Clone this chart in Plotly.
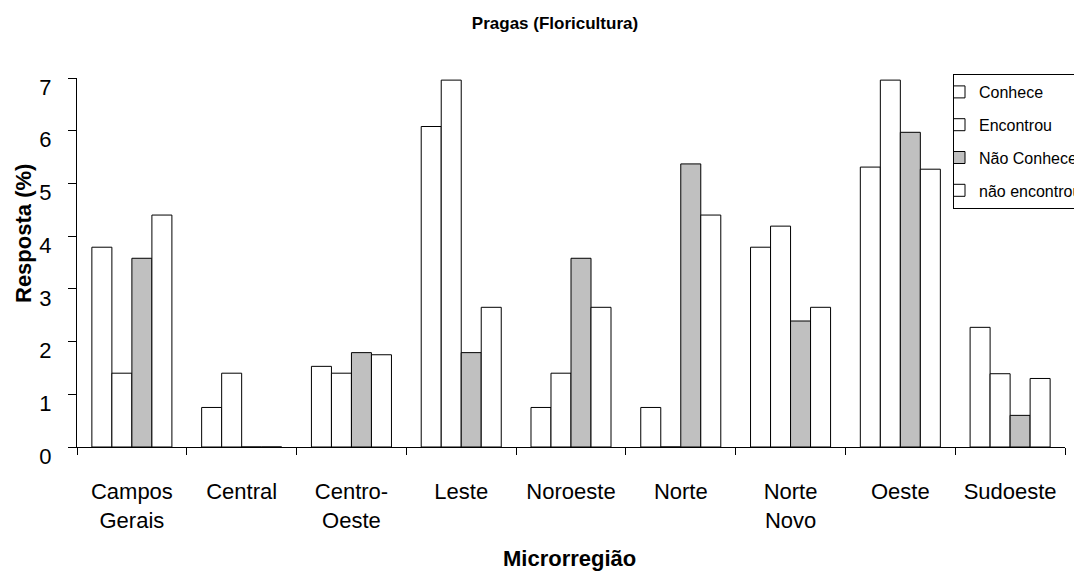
import plotly.graph_objects as go

categories = ["Campos<br>Gerais", "Central", "Centro-<br>Oeste", "Leste", "Noroeste",
              "Norte", "Norte<br>Novo", "Oeste", "Sudoeste"]
conhece = [3.79, 0.75, 1.53, 6.08, 0.75, 0.75, 3.79, 5.31, 2.27]
encontrou = [1.40, 1.40, 1.40, 6.96, 1.40, 0, 4.19, 6.96, 1.39]
nao_conhece = [3.58, 0, 1.79, 1.79, 3.58, 5.37, 2.39, 5.97, 0.60]
nao_encontrou = [4.40, 0, 1.75, 2.65, 2.65, 4.40, 2.65, 5.27, 1.30]

series_names = ["Conhece", "Encontrou", "Não Conhece", "não encontrou"]
series_values = [conhece, encontrou, nao_conhece, nao_encontrou]
series_colors = ["#FFFFFF", "#FFFFFF", "#C0C0C0", "#FFFFFF"]

FONT = "Liberation Sans, Arial, sans-serif"

# page body has an 8px margin; figure coordinates are screen coordinates minus 8
OFF = 8
W, H = 1082, 571
L, T, R, B = 77 - OFF, 78 - OFF, W - (1065 - OFF), H - (447 - OFF)
PW, PH = W - L - R, H - T - B

def px_x(sx):
    return (sx - OFF - L) / PW

def px_y(sy):
    return (H - B - (sy - OFF)) / PH

fig = go.Figure()
for i, (name, vals, col) in enumerate(zip(series_names, series_values, series_colors)):
    fig.add_trace(go.Bar(
        x=categories, y=vals, name=name, legendgroup=f"g{i}",
        marker=dict(color=col, line=dict(color="#000000", width=1)),
    ))

fig.update_layout(
    width=W, height=H,
    paper_bgcolor="white", plot_bgcolor="white",
    margin=dict(l=L, r=R, t=T, b=B, autoexpand=False),
    barmode="group", bargap=0.271, bargroupgap=0,
    font=dict(family=FONT, color="black"),
    title=dict(text="<b>Pragas (Floricultura)</b>", x=(555 - OFF) / W, xanchor="center",
               y=1 - (23 - OFF) / H, yanchor="middle", font=dict(size=17)),
    legend=dict(x=px_x(953), y=px_y(74), xanchor="left", yanchor="top",
                bgcolor="white", bordercolor="black", borderwidth=1,
                font=dict(size=16), traceorder="grouped", tracegroupgap=9,
                itemwidth=30, indentation=-15),
    showlegend=True,
)

fig.update_xaxes(
    showline=True, linecolor="black", linewidth=1,
    ticks="outside", tickson="boundaries", ticklen=7, tickcolor="black",
    tickfont=dict(size=22), ticklabelstandoff=25, showgrid=False,
)
fig.update_yaxes(
    range=[0, 7], dtick=1, tick0=0,
    showline=True, linecolor="black", linewidth=1,
    ticks="outside", ticklen=8, tickcolor="black",
    tickfont=dict(size=22), ticklabelstandoff=12, ticklabelshift=9,
    showgrid=False, zeroline=False,
)

fig.add_annotation(text="<b>Resposta (%)</b>", xref="paper", yref="paper",
                   x=px_x(23), y=px_y(234), textangle=-90,
                   showarrow=False, font=dict(size=22), xanchor="center", yanchor="middle")
fig.add_annotation(text="<b>Microrregião</b>", xref="paper", yref="paper",
                   x=px_x(569), y=px_y(558),
                   showarrow=False, font=dict(size=22), xanchor="center", yanchor="middle")

fig.write_html("out.html")
